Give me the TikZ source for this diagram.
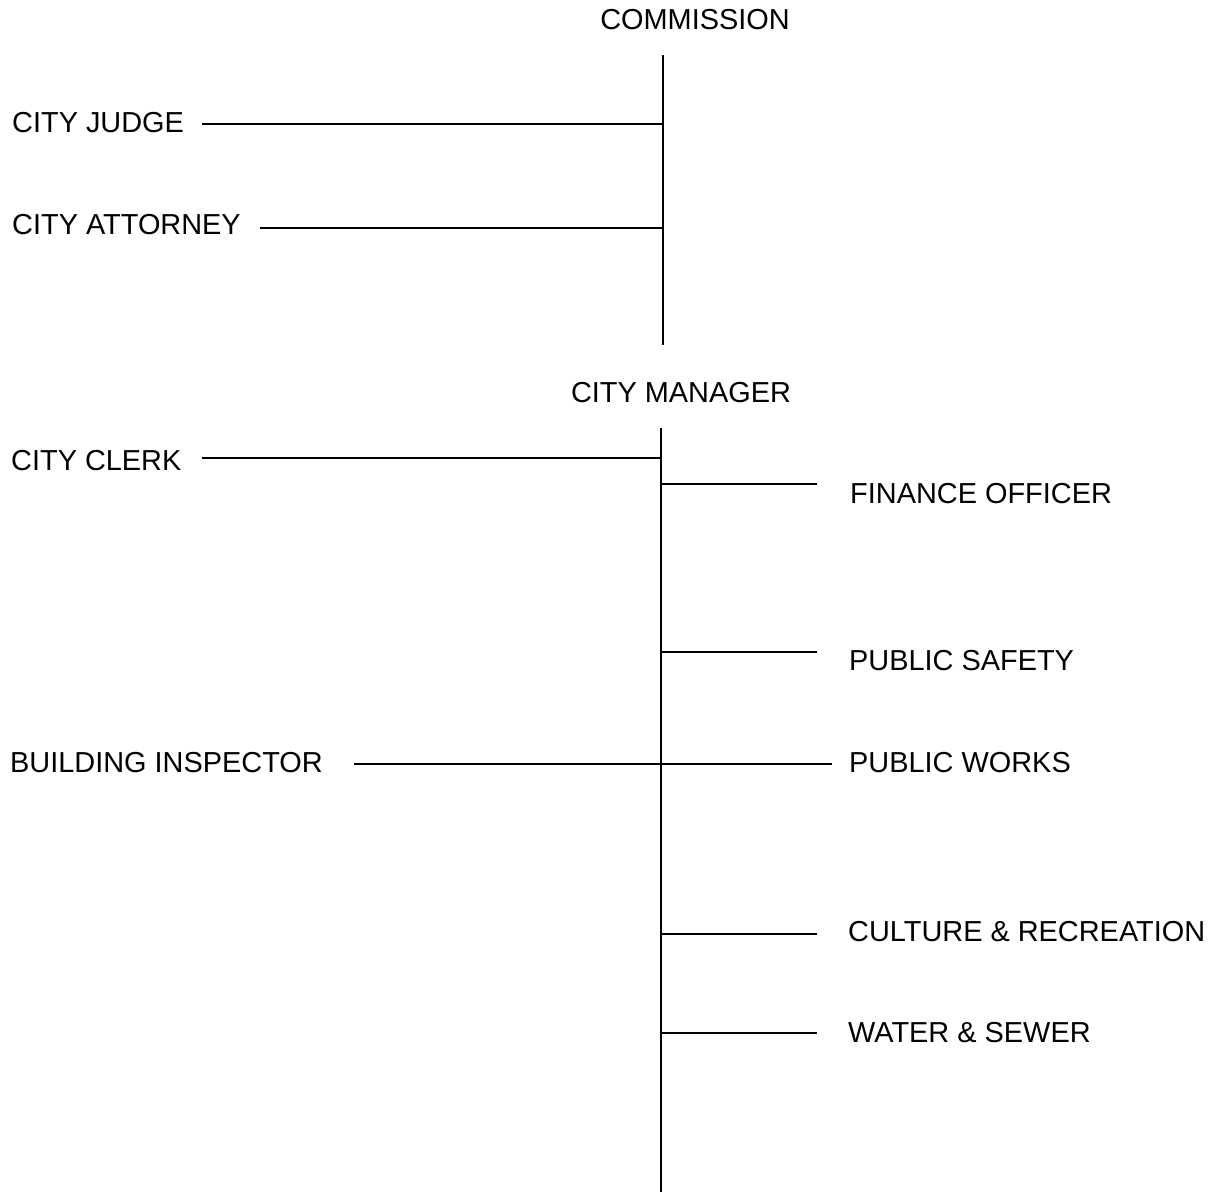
\documentclass[tikz,border=0pt]{standalone}
\usepackage{fontspec}
\setmainfont{Liberation Sans}
\begin{document}
\begin{tikzpicture}[x=1pt,y=-1pt,
  lbl/.style={inner sep=0pt,font=\fontsize{28.9}{32}\selectfont},
  conn/.style={line width=1.8pt}]
\useasboundingbox[fill=white] (0,0) rectangle (1213,1194);
% labels
\node[lbl,anchor=base] (commission) at (695,29) {COMMISSION};
\node[lbl,anchor=base west] (judge) at (12,132) {CITY JUDGE};
\node[lbl,anchor=base west] (attorney) at (12,234) {CITY ATTORNEY};
\node[lbl,anchor=base] (manager) at (681,402) {CITY MANAGER};
\node[lbl,anchor=base west] (clerk) at (11,470) {CITY CLERK};
\node[lbl,anchor=base west] (finance) at (850,503) {FINANCE OFFICER};
\node[lbl,anchor=base west] (safety) at (849,670) {PUBLIC SAFETY};
\node[lbl,anchor=base west] (building) at (10,772) {BUILDING INSPECTOR};
\node[lbl,anchor=base west] (works) at (849,772) {PUBLIC WORKS};
\node[lbl,anchor=base west] (culture) at (848,941) {CULTURE \& RECREATION};
\node[lbl,anchor=base west] (water) at (848,1042) {WATER \& SEWER};
% trunk coordinates
\coordinate (t1) at (663,55);
\coordinate (t2) at (663,345);
\coordinate (tj) at (663,124);
\coordinate (ta) at (663,228);
\coordinate (b1) at (661,428);
\coordinate (b2) at (661,1192);
\coordinate (bc) at (661,458);
\coordinate (bf) at (662,484);
\coordinate (bs) at (662,652);
\coordinate (bw) at (661,764);
\coordinate (bcu) at (662,934);
\coordinate (bwa) at (662,1033);
% branch ends
\coordinate (ej) at (202,124);
\coordinate (ea) at (260,228);
\coordinate (ec) at (202,458);
\coordinate (ef) at (817,484);
\coordinate (es) at (817,652);
\coordinate (ebi) at (354,764);
\coordinate (epw) at (832,764);
\coordinate (ecu) at (817,934);
\coordinate (ewa) at (817,1033);
% connectors
\draw[conn] (t1) -- (t2);
\draw[conn] (ej) -- (tj);
\draw[conn] (ea) -- (ta);
\draw[conn] (b1) -- (b2);
\draw[conn] (ec) -- (bc);
\draw[conn] (bf) -- (ef);
\draw[conn] (bs) -- (es);
\draw[conn] (ebi) -- (bw) -- (epw);
\draw[conn] (bcu) -- (ecu);
\draw[conn] (bwa) -- (ewa);
\end{tikzpicture}
\end{document}
